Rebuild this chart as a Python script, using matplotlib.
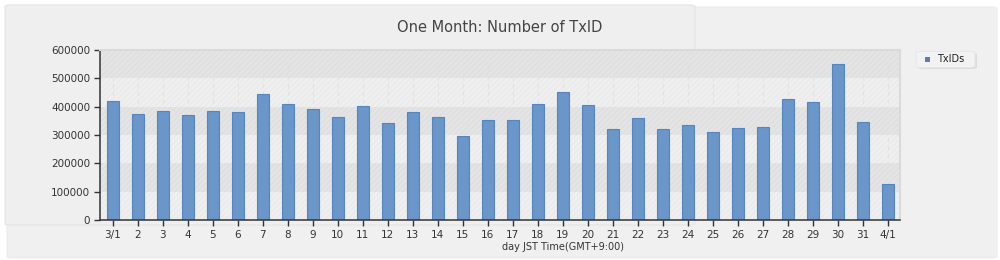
import matplotlib
matplotlib.use("Agg")
import matplotlib.pyplot as plt
from matplotlib.patches import FancyBboxPatch
import numpy as np

categories = ["3/1", "2", "3", "4", "5", "6", "7", "8", "9", "10", "11", "12", "13", "14", "15", "16",
              "17", "18", "19", "20", "21", "22", "23", "24", "25", "26", "27", "28", "29", "30", "31", "4/1"]
txids = [419000, 375000, 386000, 369000, 385000, 380000, 445000, 410000, 393000, 365000, 402000,
         342000, 381000, 364000, 296000, 353000, 352000, 409000, 452000, 405000, 321000, 360000,
         320000, 335000, 311000, 324000, 328000, 427000, 417000, 551000, 346000, 127000]
yticks = [0, 100000, 200000, 300000, 400000, 500000, 600000]
title = "One Month: Number of TxID"
xlabel = "day JST Time(GMT+9:00)"
series_name = "TxIDs"

plt.rcParams['font.family'] = ['DejaVu Sans']
plt.rcParams['hatch.linewidth'] = 0.6

W, H = 1000, 260
fig = plt.figure(figsize=(W / 100, H / 100), dpi=100, facecolor='white')

def px_box(x0, y0, x1, y1, **kw):
    return FancyBboxPatch((x0 / W, 1 - y1 / H), (x1 - x0) / W, (y1 - y0) / H,
                          boxstyle="round,pad=0,rounding_size=0.006",
                          transform=fig.transFigure, **kw)

fig.patches.append(px_box(7, 7, 997, 258, facecolor='#f0f0f0', edgecolor='#ececec', lw=0.8, zorder=0))
fig.patches.append(px_box(5, 5, 695, 225, facecolor='#efefef', edgecolor='#e6e6e6', lw=0.9, zorder=0.5))

ax = fig.add_axes([100 / W, 1 - 220 / H, 800 / W, 170 / H])
ax.set_facecolor('#f0f0f0')
ax.set_zorder(2)

x = np.arange(len(categories))
ax.set_xlim(-0.5, len(categories) - 0.5)
ax.set_ylim(0, 600000)

# alternating hatched bands
for i in range(len(yticks) - 1):
    dark = (i % 2 == 1)
    ax.axhspan(yticks[i], yticks[i + 1], facecolor='#e4e4e4' if dark else '#efefef',
               edgecolor='#dcdcdc' if dark else '#e8e8e8', hatch='//////', lw=0, zorder=0)

# vertical dashed grid
for xi in x:
    ax.axvline(xi, color='#e2e2e2', lw=0.8, ls=(0, (4, 3)), zorder=0.5)

ax.bar(x, txids, width=0.48, color='#6a96c9', edgecolor='#5585c0', lw=0.8, zorder=2)

ax.set_xticks(x)
ax.set_xticklabels(categories)
ax.set_yticks(yticks)
ax.set_yticklabels([str(v) for v in yticks])
ax.tick_params(axis='both', labelsize=7.5, colors='#333333', length=4, width=1, direction='out', pad=3)
ax.tick_params(axis='x', pad=3)

for s in ['left', 'bottom']:
    ax.spines[s].set_color('#333333')
    ax.spines[s].set_linewidth(1.1)
for s in ['top', 'right']:
    ax.spines[s].set_color('#dadada')
    ax.spines[s].set_linewidth(1.5)

fig.text(0.5, 1 - 27 / H, title, ha='center', va='center', fontsize=10.5, color='#444444')
fig.text(563 / W, 1 - 246.5 / H, xlabel, ha='center', va='center', fontsize=7, color='#333333')

# legend box
fig.patches.append(FancyBboxPatch((918 / W, 1 - 69 / H), 59 / W, 16 / H,
                                  boxstyle="round,pad=0,rounding_size=0.006",
                                  transform=fig.transFigure, facecolor='#dcdcdc', edgecolor='none', zorder=3))
fig.patches.append(FancyBboxPatch((916 / W, 1 - 67.5 / H), 59 / W, 16 / H,
                                  boxstyle="round,pad=0,rounding_size=0.006",
                                  transform=fig.transFigure, facecolor='#f2f2f2', edgecolor='#e6e6e6', lw=0.6, zorder=3.1))
fig.patches.append(plt.Rectangle((925 / W, 1 - 62 / H), 5 / W, 5 / H, transform=fig.transFigure,
                                 facecolor='#4f81bd', edgecolor='none', zorder=4))
fig.text(937 / W, 1 - 59.5 / H, series_name, ha='left', va='center', fontsize=7, color='#222222', zorder=5)

fig.savefig('out.png', dpi=100, facecolor=fig.get_facecolor())
